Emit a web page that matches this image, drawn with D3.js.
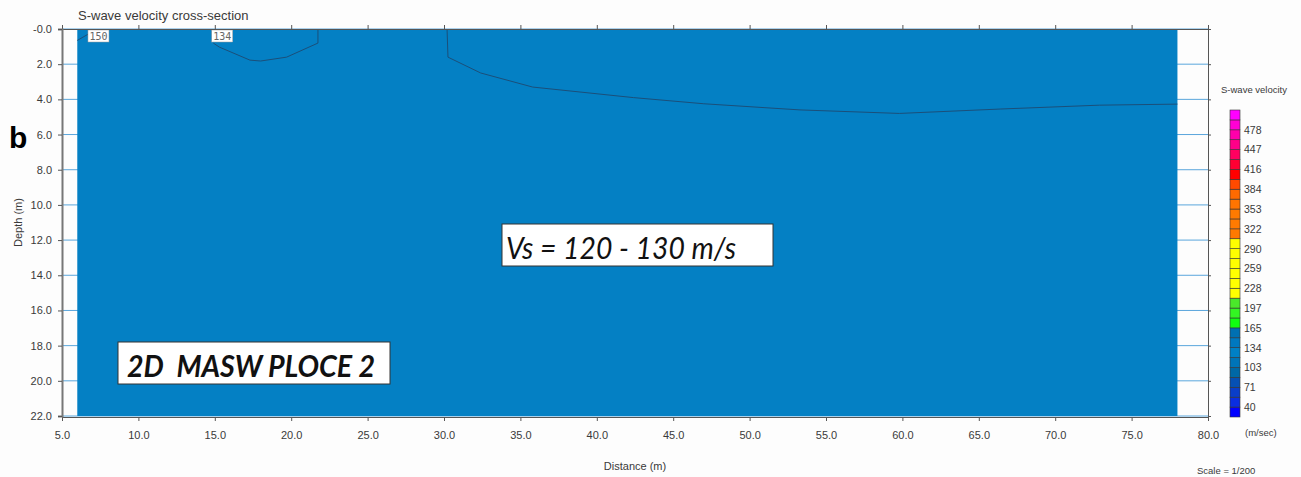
<!DOCTYPE html>
<html>
   <head>
      <script src="https://d3js.org/d3.v7.min.js"></script>
   </head>

   <style>
      body {
         margin: 0;
         background: #fdfdfd;
      }

      svg text {
         font-family: "Liberation Sans", Arial, sans-serif;
         fill: #3a3a3a;
      }

      .contour {
         fill: none;
         stroke: #1b4f7a;
         stroke-width: 1;
      }
   </style>
   <body>
      <svg id="svg-container" width="1301" height="477"></svg>

      <script>
         let svg = d3.select('#svg-container');

         // tick values of the two axes
         let distanceTicks = [5, 10, 15, 20, 25, 30, 35, 40, 45, 50, 55, 60, 65, 70, 75, 80];
         let depthTicks = [0, 2, 4, 6, 8, 10, 12, 14, 16, 18, 20, 22];

         // extent of the inverted model (distance m, depth m)
         let modelDistance = [6, 78];
         let modelDepth = [0, 22];
         let modelColor = '#0480c4';

         // contour lines, [distance, depth]
         let contour150 = [[6.0, 0.65], [6.7, 0.3], [7.0, 0.0]];
         let contour134 = [[14.9, 0.8], [15.3, 1.03], [17.3, 1.77], [18.0, 1.82], [19.7, 1.6], [21.75, 0.8], [21.75, 0.0]];
         let contourBig = [[30.2, 0.0], [30.26, 1.6], [32.4, 2.5], [35.8, 3.3], [42.4, 3.9], [47.0, 4.25], [53.3, 4.6],
                           [59.8, 4.8], [66.4, 4.55], [72.9, 4.33], [78.0, 4.27]];

         // contour labels
         let contourLabels = [
            {'text': '150', 'x': 6.7, 'depth': 0},
            {'text': '134', 'x': 14.8, 'depth': 0},
         ];

         // colour legend
         let legendLabels = [40, 71, 103, 134, 165, 197, 228, 259, 290, 322, 353, 384, 416, 447, 478];
         let legendColors = [
            '#0000ff', '#0a2ee0', '#0a3ec8', '#0650b4', '#0068a6', '#0074b8', '#0080c6', '#0078c0', '#0070b2',
            '#10ff10', '#33f522', '#4ae82a',
            '#ffff00', '#ffff00', '#ffff00', '#ffff00', '#ffff00', '#ffff00',
            '#ff7a00', '#ff7a00', '#ff7a00', '#ff7400', '#ff6a00', '#ff4a00',
            '#ff0000', '#ff0033', '#ff0060', '#ff0088', '#ff00aa', '#ff00d4', '#ff00ff'
         ];

         let x = d3.scaleLinear().domain([5, 80]).range([62, 1208]);
         let y = d3.scaleLinear().domain([0, 22]).range([29, 416]);

         // legend scale: labels sit on every second bin edge
         let step = (legendLabels[legendLabels.length - 1] - legendLabels[0]) / (legendLabels.length - 1) / 2;
         let vMin = legendLabels[0] - step;
         let vMax = vMin + step * legendColors.length;
         let ly = d3.scaleLinear().domain([vMin, vMax]).range([417, 110]);

         // grid lines in the white margins
         svg.append('g')
            .selectAll('line')
            .data(depthTicks)
            .enter()
            .append('line')
            .attr('x1', x(5))
            .attr('x2', x(80))
            .attr('y1', (d) => y(d))
            .attr('y2', (d) => y(d))
            .attr('stroke', '#5aa6dc')
            .attr('stroke-width', 1);

         // model area
         svg.append('rect')
            .attr('x', x(modelDistance[0]))
            .attr('y', y(modelDepth[0]))
            .attr('width', x(modelDistance[1]) - x(modelDistance[0]))
            .attr('height', y(modelDepth[1]) - y(modelDepth[0]))
            .attr('fill', modelColor);

         // contours
         let line = d3.line().x((d) => x(d[0])).y((d) => y(d[1]));
         [contour150, contour134, contourBig].forEach((c) => {
            svg.append('path').attr('class', 'contour').attr('d', line(c));
         });

         // contour labels
         let cl = svg.selectAll('g.clabel')
            .data(contourLabels)
            .enter()
            .append('g')
            .attr('class', 'clabel')
            .attr('transform', (d) => `translate(${x(d.x)}, ${y(d.depth) + 1})`);
         cl.append('rect')
            .attr('width', 21)
            .attr('height', 12)
            .attr('fill', '#ffffff')
            .attr('stroke', '#9a9a9a')
            .attr('stroke-width', 0.5);
         cl.append('text')
            .text((d) => d.text)
            .attr('x', 10.5)
            .attr('y', 10)
            .attr('text-anchor', 'middle')
            .style('font-family', '"DejaVu Sans Mono", monospace')
            .style('font-size', '10px')
            .style('fill', '#666');

         // axes
         let axisColor = '#555';
         let axBottom = svg.append('g')
            .attr('transform', `translate(0, ${y(22) + 1})`)
            .call(d3.axisBottom(x).tickValues(distanceTicks).tickSize(4).tickPadding(10).tickFormat(d3.format('.1f')));
         let axTop = svg.append('g')
            .attr('transform', `translate(0, ${y(0)})`)
            .call(d3.axisTop(x).tickValues(distanceTicks).tickSize(4).tickFormat(''));
         let axLeft = svg.append('g')
            .attr('transform', `translate(${x(5)}, 0)`)
            .call(d3.axisLeft(y).tickValues(depthTicks).tickSize(4).tickPadding(6)
               .tickFormat((d) => d === 0 ? '-0.0' : d3.format('.1f')(d)));
         let axRight = svg.append('g')
            .attr('transform', `translate(${x(80)}, 0)`)
            .call(d3.axisRight(y).tickValues(depthTicks).tickSize(3).tickFormat(''));

         [axBottom, axTop, axLeft, axRight].forEach((a) => {
            a.select('.domain').attr('stroke', axisColor);
            a.selectAll('.tick line').attr('stroke', axisColor);
            a.selectAll('text')
               .style('font-family', '"Liberation Sans", Arial, sans-serif')
               .style('font-size', '11px')
               .attr('fill', '#444');
         });
         axLeft.select('.domain').attr('stroke', '#777').attr('stroke-width', 2);

         // titles
         svg.append('text')
            .text('S-wave velocity cross-section')
            .attr('x', 78)
            .attr('y', 20)
            .style('font-size', '13px');

         svg.append('text')
            .text('Depth (m)')
            .attr('transform', `translate(22, ${y(11)}) rotate(-90)`)
            .attr('text-anchor', 'middle')
            .style('font-size', '11px');

         svg.append('text')
            .text('Distance (m)')
            .attr('x', x(42.5))
            .attr('y', 470)
            .attr('text-anchor', 'middle')
            .style('font-size', '11px');

         svg.append('text')
            .text('Scale = 1/200')
            .attr('x', 1197)
            .attr('y', 474)
            .style('font-size', '9.5px');

         svg.append('text')
            .text('b')
            .attr('x', 9)
            .attr('y', 148)
            .style('font-family', '"Liberation Sans", Arial, sans-serif')
            .style('font-size', '30px')
            .style('font-weight', 'bold')
            .style('fill', '#000');

         // annotation boxes
         let notes = [
            {'text': 'Vs = 120 - 130 m/s', 'x': 502, 'y': 224, 'w': 271, 'h': 42, 'weight': 'normal', 'len': 230},
            {'text': '2D  MASW PLOCE 2', 'x': 118, 'y': 342, 'w': 272, 'h': 42, 'weight': 'bold', 'len': 248},
         ];
         let nb = svg.selectAll('g.note')
            .data(notes)
            .enter()
            .append('g')
            .attr('class', 'note')
            .attr('transform', (d) => `translate(${d.x}, ${d.y})`);
         nb.append('rect')
            .attr('width', (d) => d.w)
            .attr('height', (d) => d.h)
            .attr('fill', '#ffffff')
            .attr('stroke', '#333')
            .attr('stroke-width', 1);
         nb.append('text')
            .text((d) => d.text)
            .attr('x', (d) => d.weight === 'bold' ? 9 : 4)
            .attr('y', 35)
            .attr('textLength', (d) => d.len)
            .attr('lengthAdjust', 'spacingAndGlyphs')
            .style('font-family', 'Lato, "Open Sans", sans-serif')
            .style('font-style', 'italic')
            .style('font-weight', (d) => d.weight)
            .style('font-size', '30px')
            .style('fill', '#111')
            .style('white-space', 'pre');

         // colour legend
         svg.append('text')
            .text('S-wave velocity')
            .attr('x', 1221)
            .attr('y', 93)
            .style('font-size', '9.5px');

         svg.append('g')
            .selectAll('rect')
            .data(legendColors)
            .enter()
            .append('rect')
            .attr('x', 1230)
            .attr('width', 10)
            .attr('y', (d, i) => ly(vMin + step * (i + 1)))
            .attr('height', (d, i) => ly(vMin + step * i) - ly(vMin + step * (i + 1)))
            .attr('fill', (d) => d)
            .attr('stroke', '#333')
            .attr('stroke-width', 0.6);

         svg.append('g')
            .selectAll('text')
            .data(legendLabels)
            .enter()
            .append('text')
            .text((d) => d)
            .attr('x', 1244)
            .attr('y', (d) => ly(d) + 4)
            .style('font-size', '10.5px');

         svg.append('text')
            .text('(m/sec)')
            .attr('x', 1245)
            .attr('y', 436)
            .style('font-size', '9.5px');
      </script>
   </body>
</html>
